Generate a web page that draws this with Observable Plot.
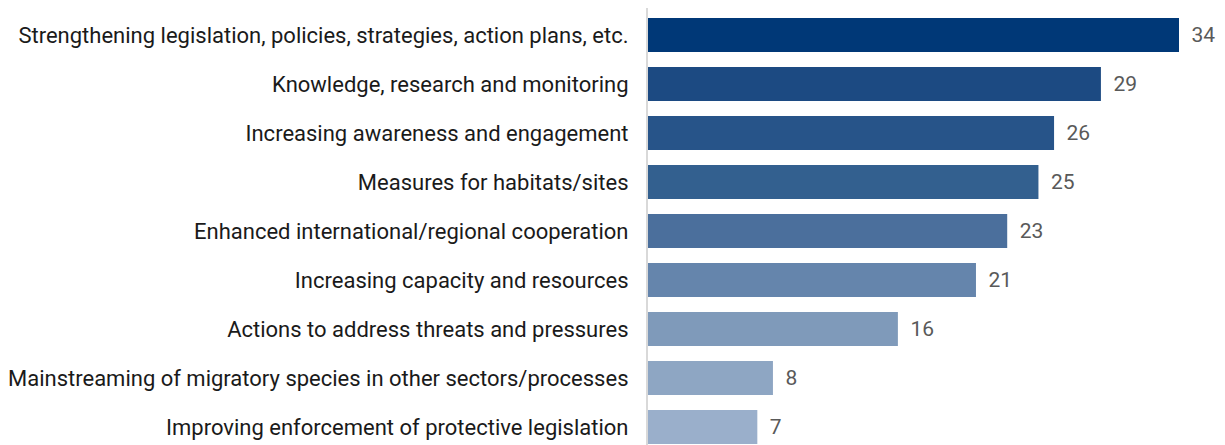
<!DOCTYPE html>
<html>
<head>
<meta charset="utf-8">
<script src="https://cdn.jsdelivr.net/npm/d3@7"></script>
<script src="https://cdn.jsdelivr.net/npm/@observablehq/plot@0.6"></script>
<style>
  html, body { margin: 0; padding: 0; background: #fff; }
  #chart svg { display: block; }
</style>
</head>
<body>
<div id="chart"></div>
<script>
const categories = [
  "Strengthening legislation, policies, strategies, action plans, etc.",
  "Knowledge, research and monitoring",
  "Increasing awareness and engagement",
  "Measures for habitats/sites",
  "Enhanced international/regional cooperation",
  "Increasing capacity and resources",
  "Actions to address threats and pressures",
  "Mainstreaming of migratory species in other sectors/processes",
  "Improving enforcement of protective legislation"
];
const values = [34, 29, 26, 25, 23, 21, 16, 8, 7];
const barColors = ["#003877", "#1c4a82", "#275489", "#33608f", "#4b6f9c", "#6585ac", "#7f9aba", "#8ea6c3", "#9aafcb"];

const data = categories.map((c, i) => ({category: c, value: values[i], color: barColors[i]}));

const chart = Plot.plot({
  width: 1225,
  height: 445,
  marginLeft: 648,
  marginRight: 46,
  marginTop: 8,
  marginBottom: 0,
  style: {fontFamily: "Roboto, sans-serif", background: "#fff"},
  x: {domain: [0, 34], axis: null},
  y: {domain: categories, range: [9.4, 452.2], paddingInner: 0.31, paddingOuter: 0.155, align: 0.5, label: null},
  marks: [
    Plot.barX(data, {y: "category", x: "value", fill: "color"}),
    Plot.ruleX([0], {stroke: "#d9d9d9", strokeWidth: 2, dx: -1.5}),
    Plot.axisY({tickSize: 0, tickPadding: 20, fontSize: 22, color: "#1a1a1a", label: null}),
    Plot.text(data, {y: "category", x: "value", text: d => String(d.value), textAnchor: "start", dx: 12, fontSize: 21, fill: "#595959"})
  ]
});
document.getElementById("chart").appendChild(chart);
</script>
</body>
</html>
